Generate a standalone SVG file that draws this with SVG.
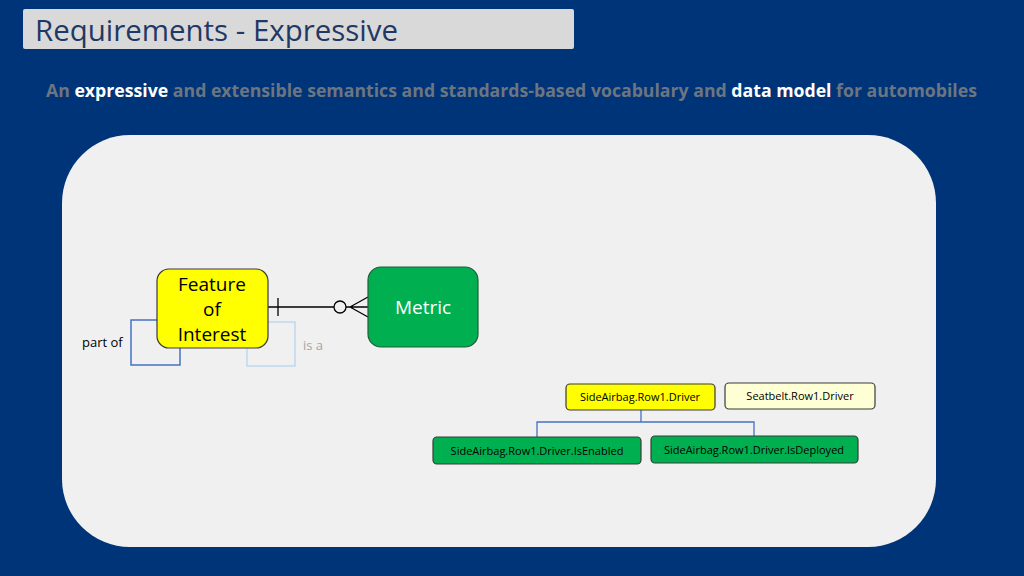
<svg xmlns="http://www.w3.org/2000/svg" width="1024" height="576" viewBox="0 0 1024 576">
<style>
.t{font-family:"Open Sans","Liberation Sans",sans-serif}
.node{stroke:#3a3a3a;stroke-width:1.2}
.big{font-size:19px;text-anchor:middle}
.sm{font-size:11px;text-anchor:middle;fill:#000}
.sub{font-size:17px;font-weight:bold;fill:#6d7580}
.hl{fill:#ffffff}
</style>
<rect x="0" y="0" width="1024" height="576" fill="#003478"/>
<rect x="23" y="9" width="551" height="40" rx="2" fill="#d9d9d9"/>
<text class="t" x="35" y="41" font-size="29" fill="#1f3864" textLength="363" lengthAdjust="spacingAndGlyphs">Requirements - Expressive</text>
<text class="t sub" x="46" y="97" textLength="931" lengthAdjust="spacingAndGlyphs">An <tspan class="hl">expressive</tspan> and extensible semantics and standards-based vocabulary and <tspan class="hl">data model</tspan> for automobiles</text>
<rect x="62" y="135" width="874" height="412" rx="68" fill="#f0f0f0"/>
<g id="connectors" fill="none">
  <path d="M157,320 H131 V365 H180 V348" stroke="#4472c4" stroke-width="1.5"/>
  <path d="M268,322 H295 V366 H247 V348" stroke="#bdd7ee" stroke-width="1.5"/>
  <path d="M268,307 H334 M278,298 V316 M346,307 H368 M350,307 L368,297 M350,307 L368,317" stroke="#000" stroke-width="1.3"/>
  <circle cx="340" cy="307" r="6" stroke="#000" stroke-width="1.3"/>
  <path d="M641,410 V422 M537,437 V422 H754 V437" stroke="#4472c4" stroke-width="1.3"/>
</g>
<g id="feature">
  <rect class="node" x="157" y="269" width="111" height="79" rx="12" fill="#ffff00"/>
  <text class="t big" x="212" y="291" fill="#000">Feature</text>
  <text class="t big" x="212" y="316" fill="#000">of</text>
  <text class="t big" x="212" y="341" fill="#000">Interest</text>
</g>
<g id="metric">
  <rect x="368" y="267" width="110" height="80" rx="13" fill="#00b050" stroke="#1e5e3a" stroke-width="1.2"/>
  <text class="t big" x="423" y="314" fill="#ffffff">Metric</text>
</g>
<g id="label-partof"><text class="t" x="82" y="347" font-size="13" fill="#000">part of</text></g>
<g id="label-isa"><text class="t" x="303" y="350" font-size="13" fill="#a6a6a6">is a</text></g>
<g id="sideairbag">
  <rect class="node" x="566" y="384" width="149" height="26" rx="4" fill="#ffff00"/>
  <text class="t sm" x="640" y="401">SideAirbag.Row1.Driver</text>
</g>
<g id="seatbelt">
  <rect class="node" x="725" y="383" width="150" height="26" rx="4" fill="#ffffd5"/>
  <text class="t sm" x="800" y="400">Seatbelt.Row1.Driver</text>
</g>
<g id="isenabled">
  <rect class="node" x="433" y="437" width="208" height="27" rx="4" fill="#00b050"/>
  <text class="t sm" x="537" y="455">SideAirbag.Row1.Driver.IsEnabled</text>
</g>
<g id="isdeployed">
  <rect class="node" x="651" y="436" width="207" height="27" rx="4" fill="#00b050"/>
  <text class="t sm" x="754" y="454">SideAirbag.Row1.Driver.IsDeployed</text>
</g>
</svg>
